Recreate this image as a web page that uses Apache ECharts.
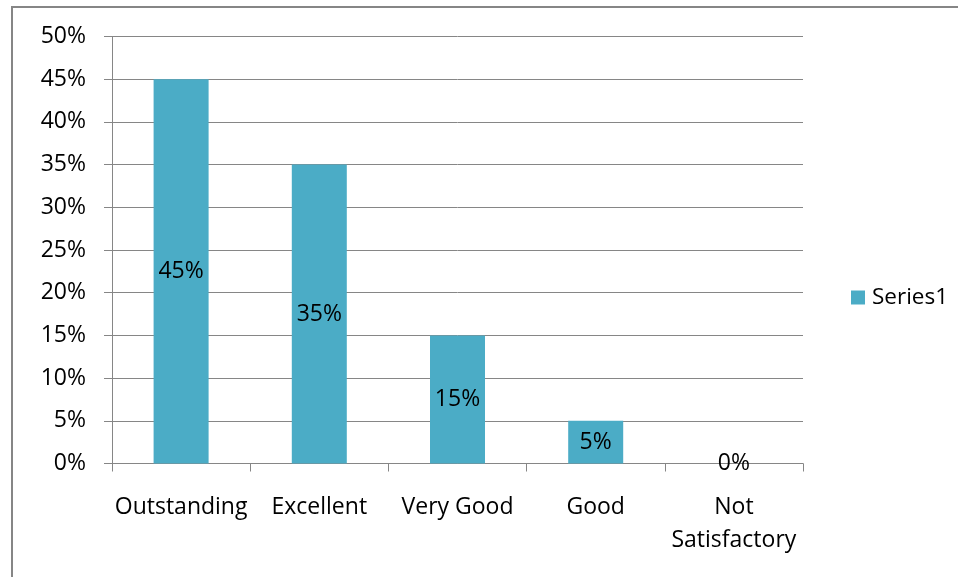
<!DOCTYPE html>
<html><head><meta charset="utf-8">
<script src="https://cdn.jsdelivr.net/npm/echarts@6/dist/echarts.min.js"></script>
<style>html,body{margin:0;padding:0;background:#fff}#c{width:958px;height:577px}</style>
</head><body><div id="c"></div>
<script>
const categories = ['Outstanding', 'Excellent', 'Very Good', 'Good', 'Not\nSatisfactory'];
const series1 = [45, 35, 15, 5, 0];
const yTicks = [0, 5, 10, 15, 20, 25, 30, 35, 40, 45, 50];

const FONT = '"Open Sans", sans-serif';
const chart = echarts.init(document.getElementById('c'), null, {renderer: 'canvas'});
chart.setOption({
  animation: false,
  backgroundColor: '#fff',
  textStyle: {fontFamily: FONT},
  graphic: [{
    type: 'rect', silent: true,
    shape: {x: 12, y: 7, width: 2000, height: 2000},
    style: {fill: 'none', stroke: '#868686', lineWidth: 2}
  }],
  grid: {left: 112, right: 155, top: 36.5, bottom: 113.5, containLabel: false},
  legend: {
    data: ['Series1'], orient: 'vertical', left: 846, top: 281,
    itemWidth: 14, itemHeight: 14, itemGap: 0, icon: 'rect',
    textStyle: {fontFamily: FONT, fontSize: 22.5, color: '#000', padding: [0, 0, 0, 2]}
  },
  xAxis: {
    type: 'category', data: categories,
    axisLine: {lineStyle: {color: '#868686', width: 1}},
    axisTick: {show: true, length: 8, lineStyle: {color: '#868686'}},
    axisLabel: {fontFamily: FONT, fontSize: 23, color: '#000', margin: 27, lineHeight: 33, interval: 0}
  },
  yAxis: {
    type: 'value', min: yTicks[0], max: yTicks[yTicks.length - 1], interval: 5,
    axisLine: {show: true, lineStyle: {color: '#868686'}},
    axisTick: {show: true, length: 8, lineStyle: {color: '#868686'}},
    splitLine: {lineStyle: {color: '#868686', width: 1}},
    axisLabel: {fontFamily: FONT, fontSize: 23, color: '#000', margin: 26, formatter: v => v + '%'}
  },
  series: [{
    name: 'Series1', type: 'bar', data: series1, barWidth: 55,
    itemStyle: {color: '#4BACC6'},
    label: {show: true, position: 'inside', formatter: p => p.value + '%',
      fontFamily: FONT, fontSize: 23, color: '#000'}
  }]
});
</script></body></html>
